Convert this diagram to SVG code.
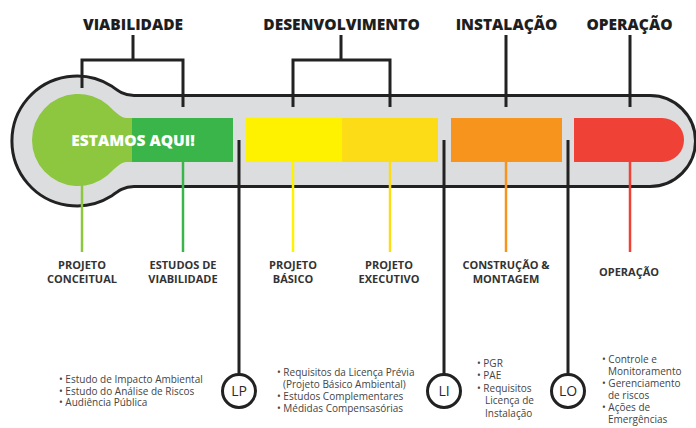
<svg xmlns="http://www.w3.org/2000/svg" width="696" height="428" viewBox="0 0 696 428">
<style>
.hdr{font-family:"Open Sans","DejaVu Sans",sans-serif;font-weight:800;font-size:15.5px;fill:#1e1e1e;text-anchor:middle}
.lbl{font-family:"Open Sans","DejaVu Sans",sans-serif;font-weight:700;font-size:11px;fill:#333;text-anchor:middle}
.lst{font-family:"Open Sans","DejaVu Sans",sans-serif;font-size:10px;fill:#444}
.lic{font-family:"Open Sans","DejaVu Sans",sans-serif;font-size:14px;fill:#2a2a2a;text-anchor:middle}
.blk{stroke:#222;stroke-width:3;fill:none}
.ring{stroke:#222;stroke-width:3;fill:#fff}
.col{stroke-width:2.5;fill:none}
</style>
<rect width="696" height="428" fill="#fff"/>
<g id="thermometer">
<path d="M134,95.5 H650 A45.5 45.5 0 0 1 650,186.5 H134 C124,186.5 118.2,190.9 111.4,196.1 A65 65 0 1 1 111.4,85.9 C118.2,91.1 124,95.5 134,95.5 Z" fill="#dcdddf" stroke="#222" stroke-width="3"/>
</g>
<g id="bar-conceitual">
<path d="M134,118 H126 C120,118 112.2,108.7 107.6,104.8 A46 46 0 1 0 107.6,175.2 C112.2,171.3 120,162 126,162 H134 Z" fill="#8dc63f"/>
</g>
<g id="bar-viabilidade"><rect x="132" y="118" width="101" height="44" fill="#39b54a"/></g>
<g id="bar-basico"><rect x="246" y="118" width="96" height="44" fill="#fff200"/></g>
<g id="bar-executivo"><rect x="342" y="118" width="96" height="44" fill="#fcdc17"/></g>
<g id="bar-construcao"><rect x="451" y="118" width="111" height="44" fill="#f7941d"/></g>
<g id="bar-operacao"><path d="M574,118 H662 A22 22 0 0 1 662,162 H574 Z" fill="#ef4136"/></g>
<g id="estamos"><text x="133" y="146" font-family="'Open Sans','DejaVu Sans',sans-serif" font-weight="800" font-size="15.5" fill="#fff" text-anchor="middle">ESTAMOS AQUI!</text></g>

<g id="connectors">
<path class="blk" d="M133,35 V60 M82,60 H183 M82,58.5 V88 M183,58.5 V107"/>
<path class="blk" d="M341,35 V60 M293,60 H390 M293,58.5 V107 M390,58.5 V107"/>
<path class="blk" d="M506,35 V107 M630,35 V107"/>
<path class="col" stroke="#8dc63f" d="M82,180 V252"/>
<path class="col" stroke="#39b54a" d="M183,162 V252"/>
<path class="col" stroke="#fff200" d="M293,162 V252"/>
<path class="col" stroke="#fcdc17" d="M390,162 V252"/>
<path class="col" stroke="#f7941d" d="M506,162 V252"/>
<path class="col" stroke="#ef4136" d="M630,162 V252"/>
<path class="blk" d="M239,140 V374 M444,140 V374 M568,140 V374"/>
</g>

<g id="hdr-viabilidade"><text class="hdr" x="133" y="30">VIABILIDADE</text></g>
<g id="hdr-desenvolvimento"><text class="hdr" x="341.5" y="30">DESENVOLVIMENTO</text></g>
<g id="hdr-instalacao"><text class="hdr" x="506.5" y="30">INSTALAÇÃO</text></g>
<g id="hdr-operacao"><text class="hdr" x="629.5" y="30">OPERAÇÃO</text></g>

<g id="lbl-conceitual"><text class="lbl" x="82" y="269">PROJETO</text><text class="lbl" x="82" y="283">CONCEITUAL</text></g>
<g id="lbl-viabilidade"><text class="lbl" x="183" y="269">ESTUDOS DE</text><text class="lbl" x="183" y="283">VIABILIDADE</text></g>
<g id="lbl-basico"><text class="lbl" x="293" y="269">PROJETO</text><text class="lbl" x="293" y="283">BÁSICO</text></g>
<g id="lbl-executivo"><text class="lbl" x="389" y="269">PROJETO</text><text class="lbl" x="389" y="283">EXECUTIVO</text></g>
<g id="lbl-construcao"><text class="lbl" x="506" y="269">CONSTRUÇÃO &amp;</text><text class="lbl" x="506" y="283">MONTAGEM</text></g>
<g id="lbl-operacao"><text class="lbl" x="629" y="276">OPERAÇÃO</text></g>

<g id="lic-lp"><circle class="ring" cx="239" cy="391" r="16.5"/><text class="lic" x="239" y="396">LP</text></g>
<g id="lic-li"><circle class="ring" cx="444" cy="391" r="16.5"/><text class="lic" x="444" y="396">LI</text></g>
<g id="lic-lo"><circle class="ring" cx="568" cy="391" r="16.5"/><text class="lic" x="568" y="396">LO</text></g>

<g id="list-viabilidade" class="lst">
<text x="59" y="383">• Estudo de Impacto Ambiental</text>
<text x="59" y="395">• Estudo do Análise de Riscos</text>
<text x="59" y="406">• Audiência Pública</text>
</g>
<g id="list-lp" class="lst">
<text x="277" y="376">• Requisitos da Licença Prévia</text>
<text x="283" y="388">(Projeto Básico Ambiental)</text>
<text x="277" y="400">• Estudos Complementares</text>
<text x="277" y="412">• Médidas Compensasórias</text>
</g>
<g id="list-li" class="lst">
<text x="477" y="367">• PGR</text>
<text x="477" y="379">• PAE</text>
<text x="477" y="392">• Requisitos</text>
<text x="485" y="404">Licença de</text>
<text x="485" y="417">Instalação</text>
</g>
<g id="list-lo" class="lst">
<text x="602" y="363">• Controle e</text>
<text x="608" y="375">Monitoramento</text>
<text x="602" y="387">• Gerenciamento</text>
<text x="608" y="399">de riscos</text>
<text x="602" y="411">• Ações de</text>
<text x="608" y="423">Emergências</text>
</g>
</svg>
